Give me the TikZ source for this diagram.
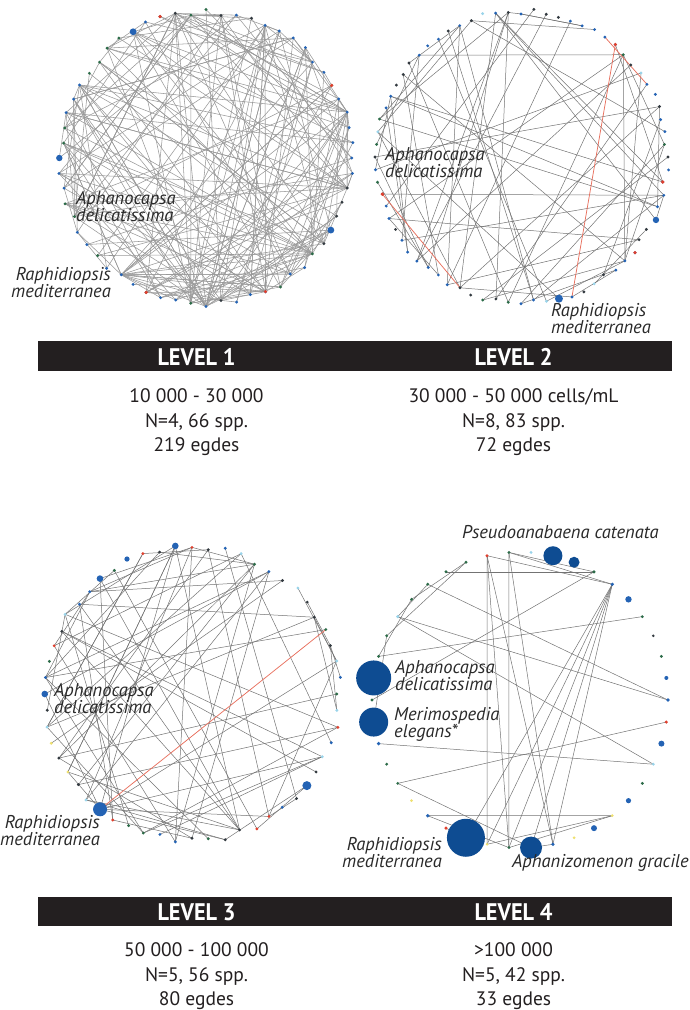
\documentclass[tikz,border=0pt]{standalone}
\usepackage{fontspec}
\setmainfont{PT Sans}
\usetikzlibrary{calc}
\definecolor{dotblue}{HTML}{2463B4}
\definecolor{navy}{HTML}{0E4C92}
\definecolor{dotdark}{HTML}{333A40}
\definecolor{dotgreen}{HTML}{2C6B48}
\definecolor{dotred}{HTML}{E0402E}
\definecolor{dotcyan}{HTML}{9AD4EA}
\definecolor{dotyellow}{HTML}{EEE070}
\definecolor{edgered}{HTML}{E8705E}
\definecolor{labelgray}{HTML}{2A2A2A}
\definecolor{barblack}{HTML}{231F20}
\tikzset{
  netedge/.style={draw=black!55, line width=0.5pt},
  lightedge/.style={draw=black!40, line width=0.55pt},
  rededge/.style={draw=edgered, line width=0.75pt},
  barbox/.style={fill=barblack, draw=none, minimum width=634pt, minimum height=29.5pt, inner sep=0pt},
  levelhead/.style={text=white, font=\fontsize{24}{24}\selectfont\bfseries, inner sep=0pt, anchor=base},
  info/.style={font=\fontsize{19.5}{19.5}\selectfont, text=barblack, inner sep=0pt, anchor=base},
  species/.style={font=\fontsize{18.5}{17}\selectfont\itshape, text=labelgray, inner sep=0pt},
  spleft/.style={species, align=left, anchor=base west},
  spright/.style={species, align=right, anchor=base east},
}
\pgfmathdeclarerandomlist{colA}{{dotblue}{dotblue}{dotblue}{dotdark}{dotdark}{dotgreen}}
\pgfmathdeclarerandomlist{colB}{{dotblue}{dotblue}{dotblue}{dotblue}{dotdark}{dotdark}{dotgreen}{dotcyan}}
\pgfmathdeclarerandomlist{colC}{{dotblue}{dotblue}{dotdark}{dotdark}{dotgreen}{dotgreen}{dotyellow}{dotred}{dotcyan}}
\pgfmathdeclarerandomlist{hubsA}{{50}{49}{36}{30}{26}{17}{59}{58}{4}{12}{22}}
\begin{document}
\begin{tikzpicture}[x=1pt,y=1pt]
\useasboundingbox (0,0) rectangle (690,-1010);
\pgfmathsetseed{4711}
% ---------------- LEVEL 1 ----------------
\foreach \i in {0,...,59}{
  \pgfmathsetmacro\ang{90-\i*6}
  \pgfmathsetmacro\rr{146+3*rand}
  \coordinate (A\i) at ($(206,-158)+(\ang:\rr)$);
}
\foreach \e in {1,...,219}{
  \pgfmathrandominteger{\h}{1}{10}
  \ifnum\h<6 \pgfmathrandomitem{\a}{hubsA}\else\pgfmathrandominteger{\a}{0}{59}\fi
  \pgfmathrandominteger{\b}{0}{59}
  \draw[lightedge] (A\a) -- (A\b);
}
\foreach \i in {0,...,59}{
  \pgfmathrandomitem{\c}{colA}
  \fill[\c] (A\i) circle (1.6);
}
\foreach \i/\s in {55/3.4,45/3.2,20/3.4}{\fill[dotblue] (A\i) circle (\s);}
\foreach \i in {57,10,34,26}{\fill[dotred] (A\i) circle (1.8);}
\node[spleft] (l1a) at (76,-221) {Aphanocapsa\\delicatissima};
\node[spright] (l1r) at (111,-297) {Raphidiopsis\\mediterranea};
% ---------------- LEVEL 2 ----------------
\foreach \i in {0,...,71}{
  \pgfmathsetmacro\ang{90-\i*5}
  \pgfmathsetmacro\rr{146+3*rand}
  \coordinate (B\i) at ($(521,-157)+(\ang:\rr)$);
}
\foreach \e in {1,...,69}{
  \pgfmathrandominteger{\a}{0}{71}
  \pgfmathrandominteger{\b}{0}{71}
  \draw[netedge] (B\a) -- (B\b);
}
\draw[rededge] (B8) -- (B32);
\draw[rededge] (B51) -- (B41);
\draw[rededge] (B7) -- (B12);
\foreach \i in {0,...,71}{
  \pgfmathrandomitem{\c}{colB}
  \fill[\c] (B\i) circle (1.6);
}
\fill[dotblue] (B33) circle (4);
\fill[dotblue] (B23) circle (3.2);
\foreach \i in {8,20,26,51}{\fill[dotred] (B\i) circle (1.8);}
\node[spleft] (l2a) at (385,-177) {Aphanocapsa\\delicatissima};
\node[spleft] (l2r) at (551,-333) {Raphidiopsis\\mediterranea};
% ---------------- LEVEL 3 ----------------
\foreach \i in {0,...,55}{
  \pgfmathsetmacro\ang{90-\i*6.42857}
  \pgfmathsetmacro\rr{147+3*rand}
  \coordinate (C\i) at ($(192,-694)+(\ang:\rr)$);
}
\foreach \e in {1,...,79}{
  \pgfmathrandominteger{\a}{0}{55}
  \pgfmathrandominteger{\b}{0}{55}
  \draw[netedge] (C\a) -- (C\b);
}
\draw[rededge] (C34) -- (C10);
\foreach \i in {0,...,55}{
  \pgfmathrandomitem{\c}{colC}
  \fill[\c] (C\i) circle (1.6);
}
\fill[dotblue] (C34) circle (7);
\fill[dotblue] (C20) circle (4.5);
\foreach \i in {42,50,55}{\fill[dotblue] (C\i) circle (3.3);}
\fill[dotblue] (C52) circle (2.6);
\node[spleft] (l3a) at (54,-713) {Aphanocapsa\\delicatissima};
\node[spright] (l3r) at (100,-845) {Raphidiopsis\\mediterranea};
% ---------------- LEVEL 4 ----------------
\foreach \k in {0,...,41}{
  \coordinate (D\k) at ($(520,-700)+({85.714-\k*8.5714}:148)$);
}
\foreach \a/\b in {40/22,41/21,40/19,41/19,40/21,40/4,41/3,38/3,39/34,37/35,
  37/10,35/10,35/13,33/6,3/31,4/22,4/21,4/23,4/19,29/13,27/11,27/20,25/16,
  25/21,24/23,22/16,19/20,34/30,39/36,41/4,4/20,36/33,21/16}{
  \draw[netedge] (D\a) -- (D\b);
}
\foreach \k/\c/\s in {0/dotcyan/1.6,1/navy/9.5,2/navy/5.5,3/dotgreen/1.7,4/dotblue/1.8,
  5/dotblue/3.2,6/dotgreen/1.6,7/dotdark/1.4,8/dotgreen/1.6,9/dotblue/2,10/dotblue/1.8,
  11/dotred/1.7,12/dotblue/3,13/dotcyan/1.6,14/dotgreen/1.6,15/dotblue/2.6,16/dotyellow/1.5,
  17/dotblue/3,18/dotyellow/1.5,19/dotblue/1.8,20/navy/11,21/dotgreen/1.6,22/dotyellow/1.4,
  23/navy/19,24/dotred/1.7,25/dotblue/1.8,26/dotyellow/1.5,27/dotgreen/1.6,28/dotgreen/1.6,
  29/dotblue/1.9,30/navy/14.5,31/dotgreen/1.6,32/navy/17.5,33/dotgreen/1.6,34/dotgreen/1.6,
  35/dotcyan/1.7,36/dotgreen/1.6,37/dotgreen/1.6,38/dotgreen/1.6,39/dotgreen/1.6,
  40/dotred/1.6,41/dotgreen/1.6}{
  \fill[\c] (D\k) circle (\s);
}
\node[spleft] (l4p) at (462,-538) {Pseudoanabaena catenata};
\node[spleft] (l4a) at (395,-690) {Aphanocapsa\\delicatissima};
\node[spleft] (l4m) at (394,-737) {Merimospedia\\elegans*};
\node[spright] (l4r) at (442,-867) {Raphidiopsis\\mediterranea};
\node[spleft] (l4g) at (512,-867) {Aphanizomenon gracile};
% ---------------- BARS AND CAPTIONS ----------------
\node[barbox] (bar1) at (355,-356.2) {};
\node[levelhead] (h1) at (196.5,-365) {\scalebox{0.93}[1]{LEVEL 1}};
\node[levelhead] (h2) at (513.5,-365) {\scalebox{0.93}[1]{LEVEL 2}};
\node[info] (t1a) at (196.5,-402) {10 000 - 30 000};
\node[info] (t1b) at (196.5,-427) {N=4, 66 spp.};
\node[info] (t1c) at (196.5,-451) {219 egdes};
\node[info] (t2a) at (513.5,-402) {30 000 - 50 000 cells/mL};
\node[info] (t2b) at (513.5,-427) {N=8, 83 spp.};
\node[info] (t2c) at (513.5,-451) {72 egdes};
\node[barbox] (bar2) at (355,-911.7) {};
\node[levelhead] (h3) at (196.5,-920.5) {\scalebox{0.93}[1]{LEVEL 3}};
\node[levelhead] (h4) at (513.5,-920.5) {\scalebox{0.93}[1]{LEVEL 4}};
\node[info] (t3a) at (196.5,-956) {50 000 - 100 000};
\node[info] (t3b) at (196.5,-981) {N=5, 56 spp.};
\node[info] (t3c) at (196.5,-1005) {80 egdes};
\node[info] (t4a) at (513.5,-956) {>100 000};
\node[info] (t4b) at (513.5,-981) {N=5, 42 spp.};
\node[info] (t4c) at (513.5,-1005) {33 egdes};
\end{tikzpicture}
\end{document}
